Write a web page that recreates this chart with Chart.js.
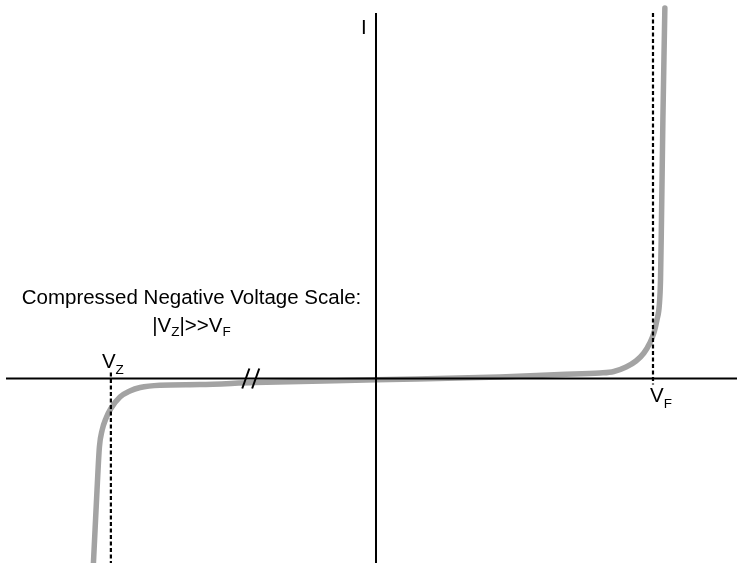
<!DOCTYPE html>
<html>
<head>
<meta charset="utf-8">
<script src="https://cdn.jsdelivr.net/npm/chart.js@4.4.1/dist/chart.umd.min.js"></script>
<style>
  body { margin: 0; background: #fff; }
  #wrap { width: 737px; height: 563px; }
</style>
</head>
<body>
<div id="wrap"><canvas id="myChart"></canvas></div>
<script>
// diode curve, voltage (compressed on the negative side) and current
const curveV = [-0.715, -0.710, -0.705, -0.699, -0.692, -0.682, -0.670, -0.647, -0.622, -0.596, -0.546, -0.445, -0.306, 0,
  0.313, 0.465, 0.566, 0.601, 0.632, 0.657, 0.677, 0.692, 0.703, 0.710, 0.716, 0.719, 0.7215, 0.725, 0.729, 0.730];
const curveI = [-19.2, -15.15, -11.15, -6.85, -5.15, -3.95, -3.0, -1.85, -1.25, -0.9, -0.67, -0.6, -0.4, -0.13,
  0.15, 0.4, 0.55, 0.7, 1.15, 1.75, 2.55, 3.55, 4.65, 5.85, 7.35, 9.85, 15.85, 25.85, 34.85, 37.05];

// reference voltages
const vF = 0.7;
const vZ = -0.67;

// axis ranges
const vMin = -0.9502, vMax = 0.9123;
const iMin = -18.45, iMax = 37.85;

// axis lines and the break mark
const axisV = [-0.935, vMax];
const axisI = [36.55, -19.5];
const dashFI = [36.55, -0.6];
const dashZI = [0.6, -19.5];
const breakV1 = [-0.338, -0.320];
const breakV2 = [-0.313, -0.295];
const breakI = [-1.0, 1.0];

const labelI = 'I';
const titulo1 = 'Compressed Negative Voltage Scale:';

const fuente = '20.5px "Liberation Sans", Arial, sans-serif';
const fuenteSub = '13.5px "Liberation Sans", Arial, sans-serif';

function pares(xs, ys) {
  return xs.map((x, k) => ({ x: x, y: ys[k] }));
}

function linea(data, extra) {
  return Object.assign({
    data: data,
    borderColor: '#000',
    borderWidth: 2,
    pointRadius: 0,
    fill: false,
    tension: 0,
    order: 1
  }, extra || {});
}

// texto con subindice
function textoSub(ctx, partes, x, y, alinear, bajada) {
  let ancho = 0;
  partes.forEach(p => {
    ctx.font = p.sub ? fuenteSub : fuente;
    ancho += ctx.measureText(p.t).width;
  });
  let px = alinear == 'center' ? x - ancho / 2 : x;
  partes.forEach(p => {
    ctx.font = p.sub ? fuenteSub : fuente;
    ctx.fillText(p.t, px, p.sub ? y + bajada : y);
    px += ctx.measureText(p.t).width;
  });
}

const etiquetas = {
  id: 'etiquetas',
  afterDatasetsDraw(chart) {
    const ctx = chart.ctx;
    const sx = chart.scales.x;
    const sy = chart.scales.y;
    const x0 = sx.getPixelForValue(0);
    const y0 = sy.getPixelForValue(0);
    ctx.save();
    ctx.fillStyle = '#000';
    ctx.textAlign = 'left';
    ctx.textBaseline = 'alphabetic';
    ctx.font = fuente;
    ctx.fillText(labelI, x0 - 15, 34);

    textoSub(ctx, [{ t: 'V' }, { t: 'Z', sub: true }], sx.getPixelForValue(vZ) - 9, y0 - 10.5, 'left', 5.5);
    textoSub(ctx, [{ t: 'V' }, { t: 'F', sub: true }], sx.getPixelForValue(vF) - 3, y0 + 23.5, 'left', 5.5);

    ctx.textAlign = 'center';
    ctx.font = fuente;
    ctx.fillText(titulo1, 191.5, 304);
    ctx.textAlign = 'left';
    textoSub(ctx, [{ t: '|V' }, { t: 'Z', sub: true }, { t: '|>>V' }, { t: 'F', sub: true }], 191.5, 331.5, 'center', 4);
    ctx.restore();
  }
};

const ctx = document.querySelector('#myChart').getContext('2d');
new Chart(ctx, {
  type: 'line',
  data: {
    datasets: [
      linea(pares(axisV, [0, 0])),
      linea(pares([0, 0], axisI)),
      linea(pares([vF, vF], dashFI), { borderDash: [4, 2.5], borderWidth: 2.2 }),
      linea(pares([vZ, vZ], dashZI), { borderDash: [4, 2.5], borderWidth: 2.2 }),
      linea(pares(breakV1, breakI)),
      linea(pares(breakV2, breakI)),
      linea(pares(curveV, curveI), {
        borderColor: '#a3a3a3',
        borderWidth: 5.5,
        cubicInterpolationMode: 'monotone',
        borderCapStyle: 'round',
        order: 2
      })
    ]
  },
  options: {
    responsive: true,
    maintainAspectRatio: false,
    animation: false,
    layout: { padding: 0 },
    plugins: { legend: { display: false }, tooltip: { enabled: false } },
    scales: {
      x: { type: 'linear', min: vMin, max: vMax, display: false },
      y: { type: 'linear', min: iMin, max: iMax, display: false }
    }
  },
  plugins: [etiquetas]
});
</script>
</body>
</html>
